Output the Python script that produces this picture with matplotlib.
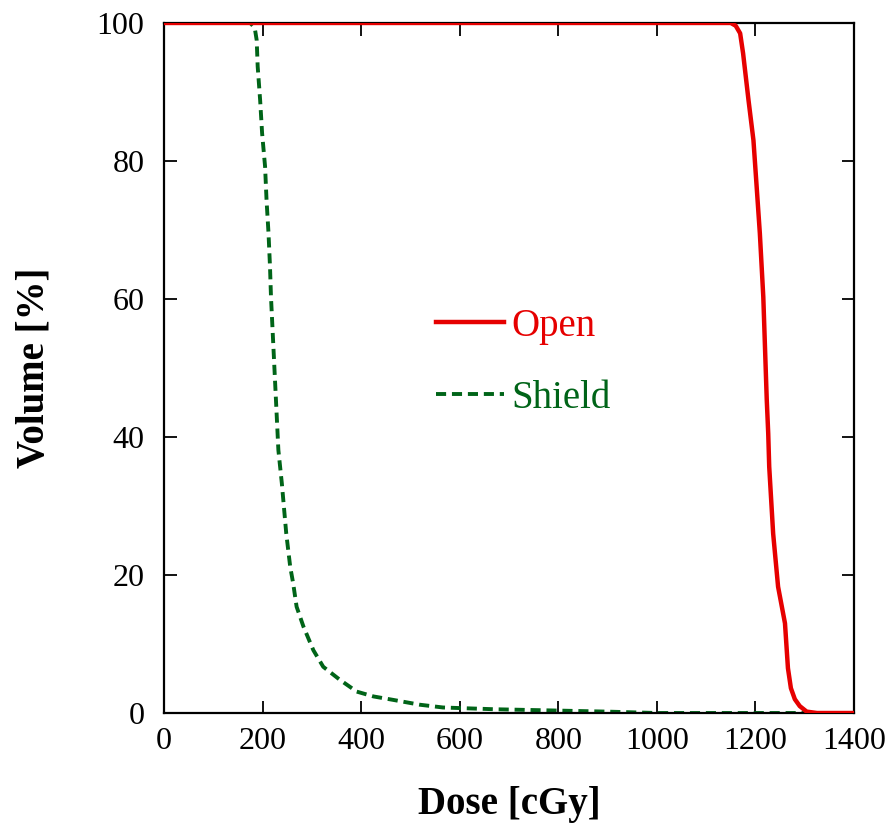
import matplotlib
matplotlib.use("Agg")
import matplotlib.pyplot as plt

plt.rcParams['font.family'] = ['Liberation Serif', 'DejaVu Serif']

# Open field DVH
open_dose = [0, 1150, 1160, 1169, 1175, 1186, 1196, 1202, 1209, 1216, 1223, 1226,
             1228, 1236, 1246, 1260, 1266, 1272, 1280, 1290, 1304, 1325, 1400]
open_vol = [100, 100, 99.6, 98.5, 95.6, 88.8, 83, 76.8, 69.5, 60.3, 45.4, 40.5,
            35.7, 26, 18.3, 13, 6.5, 3.6, 2.0, 1.0, 0.2, 0, 0]

# Shielded DVH
shield_dose = [0, 175, 184, 188, 190, 195, 199, 205, 208, 212, 215, 217, 232, 239,
               248, 256, 262, 269, 283, 303, 323, 357, 391, 425, 465, 519, 566,
               668, 800, 900, 1000, 1400]
shield_vol = [100, 100, 99.3, 97.5, 93.7, 88.8, 84, 79.2, 74.3, 69.5, 64.7, 60.3,
              38.1, 33.3, 26, 21.2, 18.8, 15.4, 12.5, 9.1, 6.7, 4.8, 3.1, 2.4,
              1.9, 1.2, 0.8, 0.55, 0.35, 0.2, 0, 0]

x_ticks = [0, 200, 400, 600, 800, 1000, 1200, 1400]
y_ticks = [0, 20, 40, 60, 80, 100]

red = '#e60000'
green = '#006418'

fig = plt.figure(figsize=(8.93, 8.35), dpi=100)
ax = fig.add_axes([0.1837, 0.1461, 0.7726, 0.8264])

ax.plot(open_dose, open_vol, color=red, lw=3.2, label='Open', zorder=3,
        solid_joinstyle='round')
ax.plot(shield_dose, shield_vol, color=green, lw=2.8, ls=(0, (2.6, 1.5)),
        label='Shield', zorder=2)

ax.set_xlim(0, 1400)
ax.set_ylim(0, 100)
ax.set_xticks(x_ticks)
ax.set_yticks(y_ticks)
ax.tick_params(direction='in', length=9, width=1.3, top=True, right=True,
               labelsize=23)
ax.tick_params(axis='x', pad=10)
ax.tick_params(axis='y', pad=14)
for s in ax.spines.values():
    s.set_linewidth(1.6)

ax.set_xlabel('Dose [cGy]', fontsize=28, fontweight='bold', labelpad=22)
ax.set_ylabel('Volume [%]', fontsize=28, fontweight='bold', labelpad=32)

leg = ax.legend(loc='center left', bbox_to_anchor=(0.343, 0.508), frameon=False,
                fontsize=28, handlelength=1.75, handletextpad=0.2,
                labelspacing=0.9, labelcolor='linecolor')

fig.savefig('out.png', dpi=100)
